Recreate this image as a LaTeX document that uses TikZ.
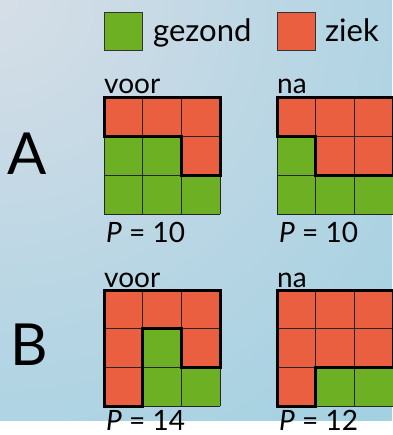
\documentclass[tikz,border=0pt]{standalone}
\usepackage{fontspec}
\setmainfont{Lato}
\definecolor{gz}{HTML}{6EB023}
\definecolor{zk}{HTML}{EA5F40}
\definecolor{bgA}{HTML}{D6DEE7}
\definecolor{bgB}{HTML}{B9D6E4}
\definecolor{bgC}{HTML}{9FD0E1}
\pgfdeclareradialshading{bgshade}{\pgfpoint{0bp}{0bp}}{color(0bp)=(bgA); color(18bp)=(bgB); color(36bp)=(bgC); color(50bp)=(bgC)}
\def\s{38.67}
\tikzset{
  thinline/.style={draw=black!85, line width=0.9pt},
  thickline/.style={draw=black, line width=3pt, line join=miter},
  lbl/.style={anchor=base west, inner sep=0pt, font=\fontsize{28}{28}\selectfont},
  biglbl/.style={anchor=base west, inner sep=0pt, font=\fontsize{58}{58}\selectfont},
  legbox/.style={draw=black!80, line width=1pt, minimum size=38pt, inner sep=0pt, anchor=north west},
}
\newcommand\cellgrid[4]{%
  \foreach \c [count=\i from 0] in {#3} {
    \pgfmathsetmacro\cx{#1+\s*mod(\i,3)}
    \pgfmathsetmacro\cy{#2+\s*floor(\i/3)}
    \fill[\c] (\cx,\cy) rectangle ++(\s,\s);
  }
  \foreach \k in {0,1,2,3} {
    \draw[thinline] ({#1+\k*\s},#2) -- ({#1+\k*\s},{#2+3*\s});
    \draw[thinline] (#1,{#2+\k*\s}) -- ({#1+3*\s},{#2+\k*\s});
  }
  \draw[thickline, shift={(#1,#2)}, x=\s pt, y=-\s pt] #4;
}
\begin{document}
\begin{tikzpicture}[x=1pt, y=-1pt]
\useasboundingbox (0,0) rectangle (392,435);
\begin{scope}
  \clip (0,0) rectangle (392,435);
  \shade[shading=bgshade] (-420pt,-420pt) rectangle (420pt,420pt);
\end{scope}
% legend
\node[legbox, fill=gz] (lg) at (104,12) {};
\node[lbl, font=\fontsize{31}{31}\selectfont] (tg) at (153,42) {gezond};
\node[legbox, fill=zk] (lr) at (277,12) {};
\node[lbl, font=\fontsize{31}{31}\selectfont] (tr) at (325,42) {ziek};
% row labels
\node[biglbl] (la) at (7,175) {A};
\node[biglbl] (lb) at (10,365) {B};
% A voor
\node[lbl] (av) at (104,94) {voor};
\cellgrid{104}{98}{zk,zk,zk,gz,gz,zk,gz,gz,gz}{(0,0) -- (3,0) -- (3,2) -- (2,2) -- (2,1) -- (0,1) -- cycle}
\node[lbl] (ap1) at (106,242) {{\itshape P} = 10};
% A na
\node[lbl] (an) at (277,94) {na};
\cellgrid{277}{98}{zk,zk,zk,gz,zk,zk,gz,gz,gz}{(0,0) -- (3,0) -- (3,2) -- (1,2) -- (1,1) -- (0,1) -- cycle}
\node[lbl] (ap2) at (279,242) {{\itshape P} = 10};
% B voor
\node[lbl] (bv) at (104,287) {voor};
\cellgrid{104}{290}{zk,zk,zk,zk,gz,zk,zk,gz,gz}{(0,0) -- (3,0) -- (3,2) -- (2,2) -- (2,1) -- (1,1) -- (1,3) -- (0,3) -- cycle}
\node[lbl] (bp1) at (106,430) {{\itshape P} = 14};
% B na
\node[lbl] (bn) at (277,287) {na};
\cellgrid{277}{290}{zk,zk,zk,zk,zk,zk,zk,gz,gz}{(0,0) -- (3,0) -- (3,2) -- (1,2) -- (1,3) -- (0,3) -- cycle}
\node[lbl] (bp2) at (279,430) {{\itshape P} = 12};
\end{tikzpicture}
\end{document}
